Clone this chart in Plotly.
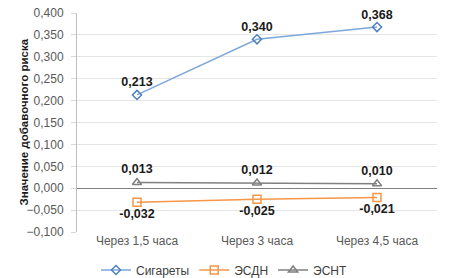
import plotly.graph_objects as go

categories = ["Через 1,5 часа", "Через 3 часа", "Через 4,5 часа"]
cig = [0.213, 0.340, 0.368]
esdn = [-0.032, -0.025, -0.021]
esnt = [0.013, 0.012, 0.010]
yticks = [-0.1, -0.05, 0, 0.05, 0.1, 0.15, 0.2, 0.25, 0.3, 0.35, 0.4]
y_title = "Значение добавочного риска"

FONT = "Liberation Sans, Arial, sans-serif"

def fmt(v):
    return "<b>" + f"{v:.3f}".replace(".", ",") + "</b>"

fig = go.Figure()
fig.add_trace(go.Scatter(
    x=categories, y=cig, name="Сигареты", mode="lines+markers+text",
    line=dict(color="#7DA7D9", width=1.5),
    marker=dict(symbol="diamond-open", size=7, color="#4F81BD", line=dict(width=1.5)),
    text=[fmt(v) for v in cig], textposition="top center",
    textfont=dict(size=12.5, color="#1a1a1a", family=FONT),
    cliponaxis=False,
))
fig.add_trace(go.Scatter(
    x=categories, y=esdn, name="ЭСДН", mode="lines+markers+text",
    line=dict(color="#F79646", width=1.5),
    marker=dict(symbol="square-open", size=8, color="#F79646", line=dict(width=1.5)),
    text=[fmt(v) for v in esdn], textposition="bottom center",
    textfont=dict(size=12.5, color="#1a1a1a", family=FONT),
    cliponaxis=False,
))
fig.add_trace(go.Scatter(
    x=categories, y=esnt, name="ЭСНТ", mode="lines+markers+text",
    line=dict(color="#808080", width=1.5),
    marker=dict(symbol="triangle-up-open", size=8, color="#808080", line=dict(width=1.5)),
    text=[fmt(v) for v in esnt], textposition="top center",
    textfont=dict(size=12.5, color="#1a1a1a", family=FONT),
    cliponaxis=False,
))

fig.add_annotation(
    text="<b>" + y_title + "</b>", textangle=-90,
    xref="paper", yref="paper", x=-54 / 360, y=0.5,
    xanchor="center", yanchor="middle", showarrow=False,
    font=dict(size=11.5, color="#1a1a1a", family=FONT),
)

fig.update_layout(
    width=449, height=278,
    margin=dict(l=77, r=12, t=13, b=46),
    paper_bgcolor="white", plot_bgcolor="white",
    separators=", ",
    font=dict(family=FONT, size=12, color="#595959"),
    showlegend=True,
    legend=dict(orientation="h", x=0.5, xref="container", xanchor="center",
                y=8 / 278, yref="container", yanchor="middle",
                itemwidth=30, tracegroupgap=0,
                font=dict(size=12, color="#404040")),
    xaxis=dict(range=[-0.5, 2.5], showgrid=False, showline=False, ticks="", zeroline=False,
               automargin=False, tickfont=dict(size=12, color="#595959")),
    yaxis=dict(range=[-0.1, 0.4], tickvals=yticks, tickformat=".3f",
               showgrid=True, gridcolor="#E6E6E6", gridwidth=1,
               zeroline=True, zerolinecolor="#808080", zerolinewidth=1,
               showline=True, linecolor="#BFBFBF", linewidth=1,
               ticks="outside", ticklen=5, tickcolor="#D9D9D9",
               ticklabelstandoff=5, automargin=False,
               tickfont=dict(size=12, color="#595959")),
)

fig.write_html("out.html", config={"displayModeBar": False},
               post_script="document.body.style.margin='0';document.body.style.overflow='hidden';")
